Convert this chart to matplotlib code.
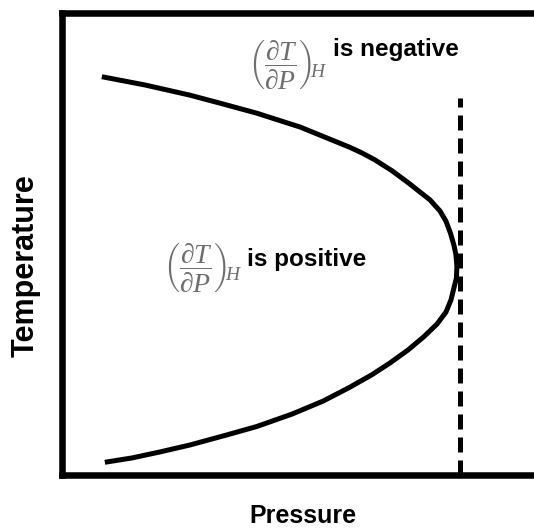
import matplotlib
matplotlib.use("Agg")
import matplotlib.pyplot as plt

# Inversion curve (arbitrary units, 0-100): upper branch then lower branch
pressure = [8.0, 16.7, 25.7, 32.3, 39.1, 47.8, 52.8, 57.8, 60.2, 62.8,
            66.3, 69.8, 71.9, 73.9, 75.9, 77.1, 78.0, 78.7, 79.1, 79.3,
            79.2, 78.6, 78.1, 77.1, 75.3, 72.7, 69.5, 65.9, 62.2, 57.6,
            52.4, 46.2, 39.1, 32.5, 25.7, 19.7, 14.1, 8.6]
temperature = [86.3, 84.5, 82.3, 80.4, 78.4, 75.4, 73.2, 71.0, 69.8, 68.3,
               65.9, 63.1, 61.3, 59.6, 57.2, 55.0, 52.4, 49.8, 47.7, 45.2,
               42.7, 40.1, 37.9, 35.3, 32.7, 30.0, 27.1, 24.3, 21.7, 18.9,
               16.0, 13.2, 10.5, 8.5, 6.5, 5.0, 3.7, 2.75]

# Maximum inversion pressure
p_max = 79.9
p_max_top = 81.7

x_label = "Pressure"
y_label = "Temperature"
label_neg = "is negative"
label_pos = "is positive"
deriv = r"$\left(\dfrac{\partial T}{\partial P}\right)_{\!\!H}$"

plt.rcParams["mathtext.fontset"] = "custom"
plt.rcParams["mathtext.rm"] = "Liberation Serif"
plt.rcParams["mathtext.it"] = "Liberation Serif:italic"
plt.rcParams["mathtext.bf"] = "Liberation Serif:bold"

sans = ["Liberation Sans", "DejaVu Sans"]

fig = plt.figure(figsize=(5.34, 5.31), dpi=100)
ax = fig.add_axes([0.1161, 0.1055, 0.9326, 0.8691])
ax.set_xlim(0, 100)
ax.set_ylim(0, 100)
ax.set_xticks([])
ax.set_yticks([])
for side in ("left", "top", "bottom"):
    ax.spines[side].set_linewidth(4.7)
ax.spines["right"].set_visible(False)

ax.plot(pressure, temperature, color="black", lw=3.6,
        solid_capstyle="butt", solid_joinstyle="round")
ax.plot([p_max, p_max], [0, p_max_top], color="black", lw=3.6,
        linestyle=(0, (3, 1.6)), dash_capstyle="butt")

ax.text(37.4, 89.0, deriv, fontsize=20, color="#6e6e6e",
        ha="left", va="center")
ax.text(54.4, 92.1, label_neg, fontsize=17.5, fontweight="bold",
        family=sans, ha="left", va="center")

ax.text(20.2, 45.0, deriv, fontsize=20, color="#6e6e6e",
        ha="left", va="center")
ax.text(37.1, 46.6, label_pos, fontsize=17.5, fontweight="bold",
        family=sans, ha="left", va="center")

fig.text(303 / 534, 1 - 516 / 531, x_label, fontsize=18, fontweight="bold",
         family=sans, ha="center", va="center")
fig.text(25.5 / 534, 1 - 266 / 531, y_label, fontsize=22, fontweight="bold",
         family=sans, rotation=90, ha="center", va="center")

fig.savefig("out.png", dpi=100)
